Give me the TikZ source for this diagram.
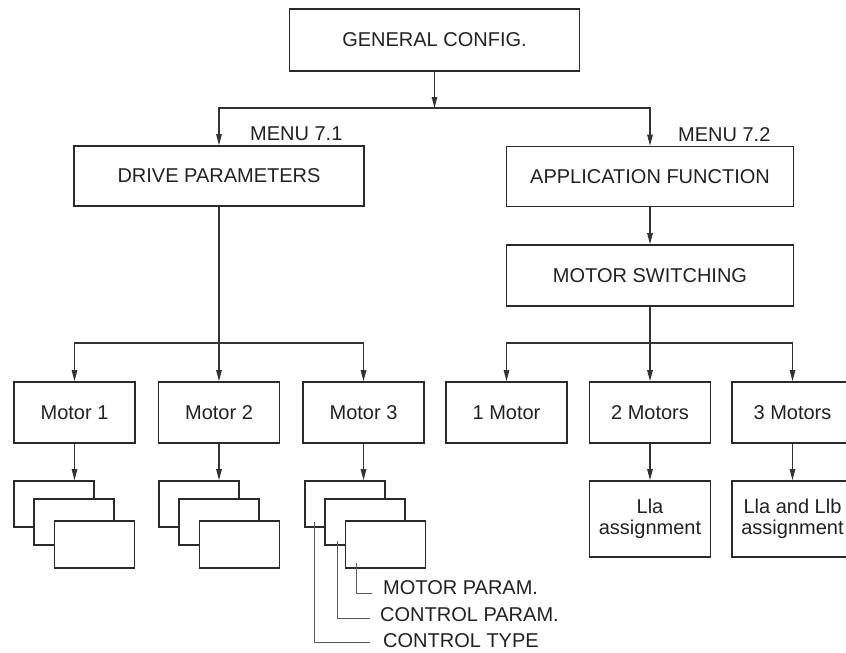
\documentclass[tikz,border=0pt]{standalone}
\usepackage{fontspec}
\setmainfont{Liberation Sans}
\usetikzlibrary{arrows.meta}
\definecolor{boxc}{HTML}{2A2A2A}
\definecolor{linec}{HTML}{333333}
\definecolor{leadc}{HTML}{5A5A5A}
\definecolor{txt}{HTML}{222222}
\begin{document}
\begin{tikzpicture}[x=1pt,y=-1pt,
  box/.style={draw=boxc, line width=1.6pt, fill=white, inner sep=0pt, text=txt,
    font=\fontsize{20}{21.5}\selectfont, align=center},
  conn/.style={draw=linec, line width=1.1pt},
  arr/.style={conn, -{Triangle[length=11pt,width=5.5pt]}},
  lead/.style={draw=leadc, line width=0.9pt},
  lbl/.style={text=txt, font=\fontsize{20}{22}\selectfont, inner sep=0pt, anchor=west},
  stk/.style={draw=boxc, line width=1.6pt, fill=white, inner sep=0pt,
    minimum width=80pt, minimum height=46pt}
]
\clip (0,0) rectangle (846,653);
\fill[white] (0,0) rectangle (846,653);

% top
\node[box, minimum width=290pt, minimum height=62pt] (gen) at (434.5,40) {GENERAL CONFIG.};
\node[box, minimum width=290pt, minimum height=60pt] (drive) at (219,176) {DRIVE PARAMETERS};
\node[box, minimum width=287pt, minimum height=60pt] (app) at (650,176.5) {APPLICATION FUNCTION};
\node[box, minimum width=287pt, minimum height=61pt] (msw) at (650,275.5) {MOTOR SWITCHING};

\node[lbl] (menu1) at (250,134) {MENU 7.1};
\node[lbl] (menu2) at (678,135) {MENU 7.2};

% motor boxes
\node[box, minimum width=121pt, minimum height=61pt] (m1) at (74.5,412.5) {Motor 1};
\node[box, minimum width=121pt, minimum height=61pt] (m2) at (219,412.5) {Motor 2};
\node[box, minimum width=121pt, minimum height=61pt] (m3) at (363.5,412.5) {Motor 3};
\node[box, minimum width=121pt, minimum height=61pt] (o1) at (506.5,412.5) {1 Motor};
\node[box, minimum width=121pt, minimum height=61pt] (o2) at (650,412.5) {2 Motors};
\node[box, minimum width=121pt, minimum height=61pt] (o3) at (792.5,412.5) {3 Motors};
\node[box, minimum width=121pt, minimum height=76pt] (la) at (650,519) {Lla\\assignment};
\node[box, minimum width=121pt, minimum height=76pt] (lb) at (792.5,519) {Lla and Llb\\assignment};

% stacks
\foreach \k/\L in {1/14, 2/159, 3/305}{
  \node[stk] (m\k a) at (\L+40,504) {};
  \node[stk] (m\k b) at (\L+60,522) {};
  \node[stk, minimum height=47pt] (m\k c) at (\L+80.5,544.5) {};
}

% connectors
\coordinate (hub) at (434.5,108);
\draw[arr] (gen.south) -- (hub);
\draw[arr] (hub) -| (drive.north);
\draw[arr] (hub) -| (app.north);

\coordinate (dh) at (219,343);
\draw[conn] (drive.south) -- (dh);
\draw[arr] (dh) -| (m1.north);
\draw[arr] (dh) -- (m2.north);
\draw[arr] (dh) -| (m3.north);

\draw[arr] (app.south) -- (msw.north);
\coordinate (rh) at (650,343);
\draw[conn] (msw.south) -- (rh);
\draw[arr] (rh) -| (o1.north);
\draw[arr] (rh) -- (o2.north);
\draw[arr] (rh) -| (o3.north);

\draw[arr] (o2.south) -- (la.north);
\draw[arr] (o3.south) -- (lb.north);

\draw[arr] (m1.south) -- (m1.south |- m1a.north);
\draw[arr] (m2.south) -- (m2.south |- m2a.north);
\draw[arr] (m3.south) -- (m3.south |- m3a.north);

% leaders
\node[lbl] (mp) at (383,588) {MOTOR PARAM.};
\node[lbl] (cp) at (380,615) {CONTROL PARAM.};
\node[lbl] (ct) at (383,641) {CONTROL TYPE};
\coordinate (mps) at (356,563);
\coordinate (cps) at (337,541);
\coordinate (cts) at (314,522);
\draw[lead] (mps) |- ([xshift=-11pt]mp.west |- 0,593);
\draw[lead] (cps) |- ([xshift=-10pt]cp.west |- 0,618);
\draw[lead] (cts) |- ([xshift=-13pt]ct.west |- 0,642);
\end{tikzpicture}
\end{document}
